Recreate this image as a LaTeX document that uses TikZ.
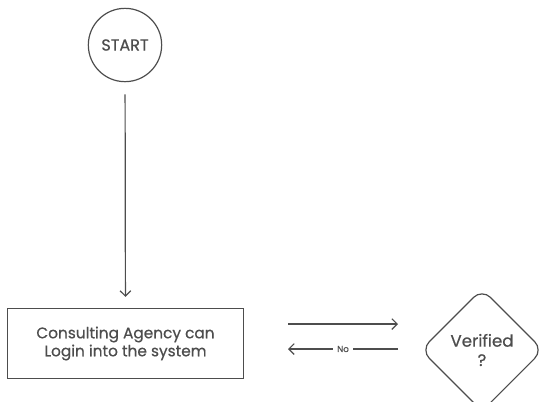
\documentclass[tikz,border=0pt]{standalone}
\usepackage{fontspec}
\setmainfont{Poppins}[FakeBold=0.6]
\usetikzlibrary{arrows.meta,shapes.geometric}
\definecolor{linegray}{HTML}{4d4d4d}
\begin{document}
\begin{tikzpicture}[x=0.75pt,y=-0.75pt,->,>={Straight Barb[length=4pt,width=8pt]},
  line width=0.9pt,draw=linegray,text=linegray,
  start node/.style={circle,draw,minimum size=55pt,inner sep=0pt,font=\fontsize{12}{14}\selectfont},
  step box/.style={rectangle,draw,minimum width=177pt,minimum height=53pt,align=center,font=\fontsize{11.5}{13.5}\selectfont},
  check node/.style={diamond,draw,rounded corners=9pt,minimum size=92pt,inner sep=0pt,align=center,font=\fontsize{12.5}{14.5}\selectfont}]

  \useasboundingbox (0,0) rectangle (541,401);

  \node[start node] (start) at (125,45) {START};
  % the box and the check sit on one row
  \node[step box] (login) at (125.5,343.5) {Consulting Agency can\\Login into the system};
  \node[check node] (verified) at (482,350) {Verified\\?};

  \coordinate (go out) at (288,324);
  \coordinate (go in) at (398,324);
  \coordinate (back out) at (398,349);
  \coordinate (back in) at (288,349);

  \path[every node/.style={font=\fontsize{6.5}{7}\selectfont,fill=white,inner sep=3pt}]
    (start) edge [shorten <=9pt,shorten >=8pt] (login)
    (go out) edge (go in)
    (back out) edge node {No} (back in);
\end{tikzpicture}
\end{document}
